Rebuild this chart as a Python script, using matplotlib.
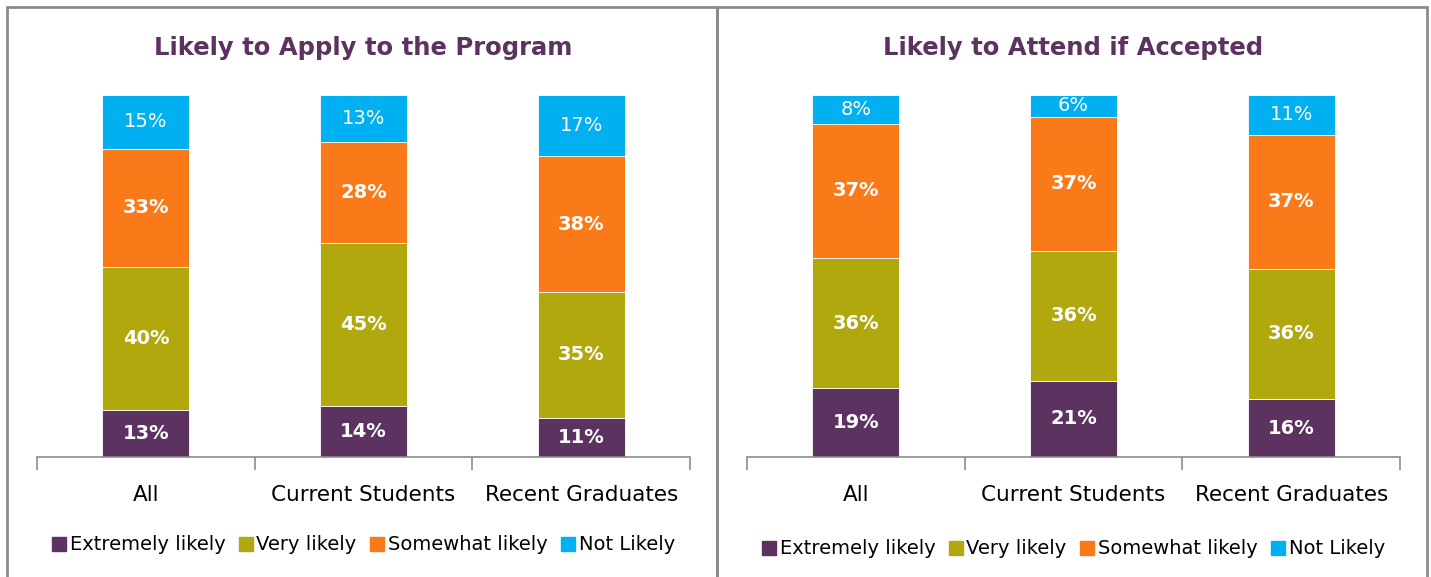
import numpy as np
import matplotlib.pyplot as plt
from matplotlib.patches import Rectangle, Patch

groups = ["All", "Current Students", "Recent Graduates"]
series = ["Extremely likely", "Very likely", "Somewhat likely", "Not Likely"]
colors = ["#5C3260", "#B0A80C", "#FA7A1A", "#00B0F0"]

apply_extremely = [13, 14, 11]
apply_very = [40, 45, 35]
apply_somewhat = [33, 28, 38]
apply_not = [15, 13, 17]

attend_extremely = [19, 21, 16]
attend_very = [36, 36, 36]
attend_somewhat = [37, 37, 37]
attend_not = [8, 6, 11]

titles = ["Likely to Apply to the Program", "Likely to Attend if Accepted"]
panels = [
    [apply_extremely, apply_very, apply_somewhat, apply_not],
    [attend_extremely, attend_very, attend_somewhat, attend_not],
]

W, H = 1431, 577
fig = plt.figure(figsize=(W / 100, H / 100), dpi=100)

# panel frames
for x0 in (7, 717):
    fig.patches.append(Rectangle((x0 / W, -0.05), 710 / W, 1 - 7 / H + 0.05,
                                 transform=fig.transFigure, fill=False,
                                 edgecolor="#8C8C8C", linewidth=2))

axes_left = [37, 747]
legend_y = [545, 549]
for k, (vals, title) in enumerate(zip(panels, titles)):
    ax = fig.add_axes([axes_left[k] / W, 1 - 457 / H, 653 / W, 362 / H])
    data = np.array(vals, dtype=float)
    shares = data / data.sum(axis=0)
    x = np.arange(len(groups))
    bottom = np.zeros(len(groups))
    for i, (name, c) in enumerate(zip(series, colors)):
        ax.bar(x, shares[i], 0.4, bottom=bottom, color=c, label=name,
               edgecolor="white", linewidth=0.6)
        for j in range(len(groups)):
            weight = "normal" if i == 3 else "bold"
            ax.text(x[j], bottom[j] + shares[i][j] / 2, f"{vals[i][j]}%",
                    ha="center", va="center", color="white", fontsize=14,
                    fontweight=weight)
        bottom += shares[i]
    ax.set_xlim(-0.5, len(groups) - 0.5)
    ax.set_ylim(0, 1)
    for s in ("top", "left", "right"):
        ax.spines[s].set_visible(False)
    ax.spines["bottom"].set_color("#8C8C8C")
    ax.spines["bottom"].set_linewidth(1.2)
    ax.set_yticks([])
    ax.set_xticks(np.arange(len(groups) + 1) - 0.5)
    ax.set_xticklabels([])
    ax.tick_params(axis="x", which="major", length=9, color="#8C8C8C", width=1.2)
    ax.set_xticks(x, minor=True)
    ax.set_xticklabels(groups, minor=True, fontsize=15.5)
    ax.tick_params(axis="x", which="minor", length=0, pad=20)
    ax.set_facecolor("none")
    ax.text(0.5, 1 + 47 / 362, title, transform=ax.transAxes, ha="center",
            va="center", fontsize=17.5, fontweight="bold", color="#5C3260")
    handles = [Patch(color=c, label=n) for n, c in zip(series, colors)]
    cx = (axes_left[k] + 653 / 2) / W
    fig.legend(handles=handles, loc="center", bbox_to_anchor=(cx, 1 - legend_y[k] / H),
               ncol=4, frameon=False, fontsize=14, handlelength=0.7,
               handleheight=0.7, handletextpad=0.2, columnspacing=0.7)

fig.savefig("out.png", dpi=100)
